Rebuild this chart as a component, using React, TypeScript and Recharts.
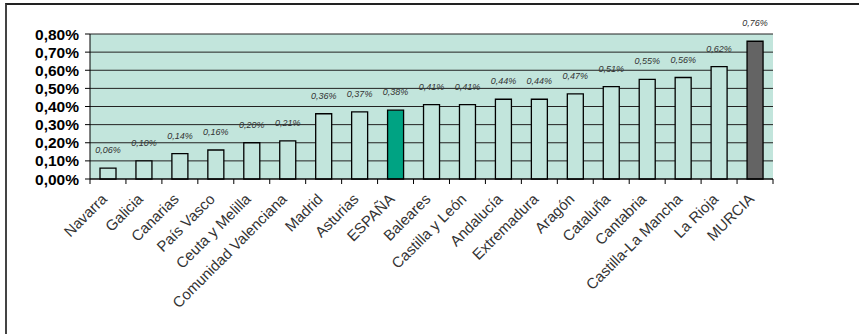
import React from "react";
import {
  BarChart,
  Bar,
  XAxis,
  YAxis,
  CartesianGrid,
  Cell,
  LabelList,
} from "recharts";

const regions = [
  "Navarra",
  "Galicia",
  "Canarias",
  "País Vasco",
  "Ceuta y Melilla",
  "Comunidad Valenciana",
  "Madrid",
  "Asturias",
  "ESPAÑA",
  "Baleares",
  "Castilla y León",
  "Andalucía",
  "Extremadura",
  "Aragón",
  "Cataluña",
  "Cantabria",
  "Castilla-La Mancha",
  "La Rioja",
  "MURCIA",
];

// percentages
const values = [
  0.06, 0.1, 0.14, 0.16, 0.2, 0.21, 0.36, 0.37, 0.38, 0.41, 0.41, 0.44, 0.44,
  0.47, 0.51, 0.55, 0.56, 0.62, 0.76,
];

const yTicks = [0, 0.1, 0.2, 0.3, 0.4, 0.5, 0.6, 0.7, 0.8];

const data = regions.map((name, i) => ({ name, value: values[i] }));

const W = 859;
const H = 334;
const margin = { top: 34, right: 86, bottom: 0, left: 0 };
const yAxisWidth = 90;
const band = (W - margin.left - margin.right - yAxisWidth) / regions.length;

const fmt = (v: number) => v.toFixed(2).replace(".", ",") + "%";

const barColor = (name: string) => {
  if (name === "ESPAÑA") return "#00a383";
  if (name === "MURCIA") return "#646464";
  return "#c2e5dc";
};

const XTick = (props: any) => {
  const { x, y, payload, index } = props;
  const last = index === regions.length - 1;
  const tx = x;
  const ty = y + 21;
  return (
    <g>
      <line x1={x - band / 2} y1={y} x2={x - band / 2} y2={y + 5} stroke="#000" />
      {last && (
        <line x1={x + band / 2} y1={y} x2={x + band / 2} y2={y + 5} stroke="#000" />
      )}
      <text
        x={tx}
        y={ty}
        transform={`rotate(-45, ${tx}, ${ty})`}
        textAnchor="end"
        fontFamily="'Liberation Sans', Arial, sans-serif"
        fontSize={15}
        fill="#333"
      >
        {payload.value}
      </text>
    </g>
  );
};

const ValueLabel = (props: any) => {
  const { x, y, width, value } = props;
  return (
    <text
      x={x + width / 2}
      y={y - 15}
      textAnchor="middle"
      fontFamily="'Liberation Sans', Arial, sans-serif"
      fontStyle="italic"
      fontSize={9}
      fill="#333"
    >
      {fmt(value)}
    </text>
  );
};

export default function App() {
  return (
    <div style={{ position: "absolute", left: 0, top: 0, width: W, height: H, background: "#fff" }}>
      <div
        style={{
          position: "absolute",
          left: 5,
          top: 3,
          right: 0,
          bottom: 0,
          borderTop: "2px solid #222",
          borderLeft: "2px solid #444",
        }}
      />
      <div style={{ position: "absolute", left: 0, top: 0 }}>
        <BarChart width={W} height={H} data={data} margin={margin} barSize={16}>
          <CartesianGrid
            vertical={false}
            horizontal
            stroke="#222"
            fill="#c2e5dc"
            horizontalValues={yTicks}
          />
          <XAxis
            dataKey="name"
            interval={0}
            height={H - 179}
            tickLine={false}
            tickSize={0}
            tickMargin={0}
            axisLine={{ stroke: "#000" }}
            tick={<XTick />}
          />
          <YAxis
            width={yAxisWidth}
            domain={[0, 0.8]}
            ticks={yTicks}
            interval={0}
            tickFormatter={fmt}
            axisLine={{ stroke: "#000" }}
            tickLine={{ stroke: "#000" }}
            tickSize={5}
            tickMargin={6}
            tick={{
              fill: "#000",
              fontSize: 15.5,
              fontWeight: "bold",
              fontFamily: "'Liberation Sans', Arial, sans-serif",
            }}
          />
          <Bar dataKey="value" stroke="#000" strokeWidth={1.3} isAnimationActive={false}>
            {data.map((d) => (
              <Cell key={d.name} fill={barColor(d.name)} />
            ))}
            <LabelList dataKey="value" content={<ValueLabel />} />
          </Bar>
        </BarChart>
      </div>
    </div>
  );
}
